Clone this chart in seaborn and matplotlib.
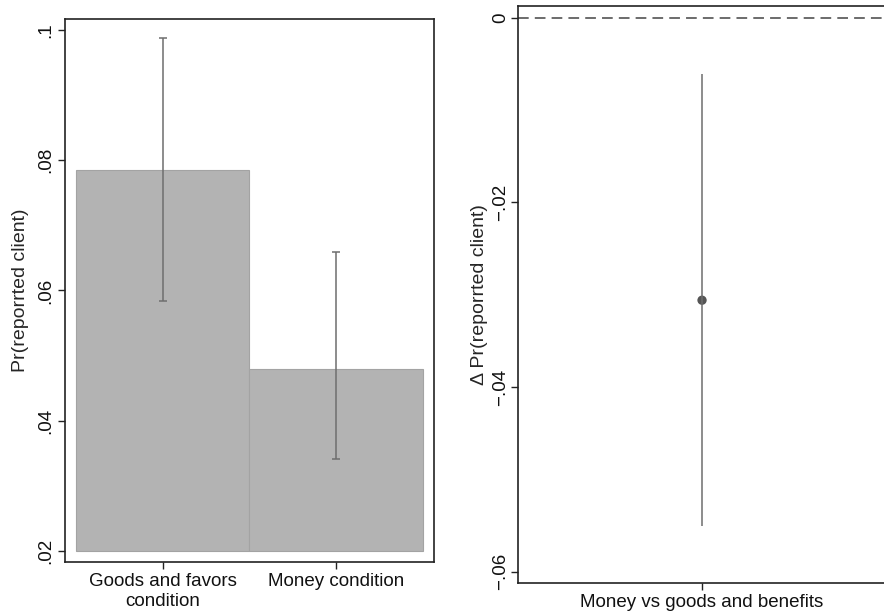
import numpy as np
import matplotlib
matplotlib.use("Agg")
import matplotlib.pyplot as plt
import seaborn as sns

# bar panel values
conditions = ["Goods and favors\ncondition", "Money condition"]
pr_reported = np.array([0.0785, 0.0479])
ci_low = np.array([0.0584, 0.0341])
ci_high = np.array([0.0988, 0.0659])
bar_base = 0.02

# difference panel values
diff_label = ["Money vs goods and benefits"]
diff_est = np.array([-0.0306])
diff_low = np.array([-0.0551])
diff_high = np.array([-0.0061])

sns.set_theme(style="white")
plt.rcParams["font.family"] = ["Liberation Sans", "DejaVu Sans"]
plt.rcParams["font.size"] = 13.5

fig = plt.figure(figsize=(8.84, 6.16), dpi=100)
ax1 = fig.add_axes([0.0735, 0.0877, 0.4174, 0.8815])
ax2 = fig.add_axes([0.586, 0.0531, 0.4163, 0.9372])

# --- left: bars with CIs
sns.barplot(x=conditions, y=pr_reported - bar_base, bottom=bar_base, ax=ax1,
            color="#b3b3b3", saturation=1, width=1, errorbar=None,
            edgecolor="#a3a3a3", linewidth=0.8)
ax1.errorbar(np.arange(len(conditions)), pr_reported,
             yerr=[pr_reported - ci_low, ci_high - pr_reported],
             fmt="none", ecolor="#6e6e6e", elinewidth=1.1, capsize=3.2, capthick=1.1)
ax1.set_xlim(-0.563, 1.563)
ax1.set_ylim(0.0183, 0.1017)
ax1.set_yticks([0.02, 0.04, 0.06, 0.08, 0.1])
ax1.set_yticklabels([".02", ".04", ".06", ".08", ".1"], rotation=90, va="center")
ax1.set_ylabel("Pr(reporrted client)", fontsize=14, labelpad=6)
ax1.set_xlabel("")

# --- right: difference with CI
ax2.axhline(0, color="#444444", linestyle=(0, (7, 4)), linewidth=1.1)
ax2.vlines([0], diff_low, diff_high, color="#6e6e6e", linewidth=1.1)
sns.scatterplot(x=[0], y=diff_est, ax=ax2, color="#555555", s=45, edgecolor="none")
ax2.set_xlim(-1, 1)
ax2.set_ylim(-0.06126, 0.00127)
ax2.set_xticks([0])
ax2.set_xticklabels(diff_label)
ax2.set_yticks([0, -0.02, -0.04, -0.06])
ax2.set_yticklabels(["0", "\u2212.02", "\u2212.04", "\u2212.06"], rotation=90, va="center")
ax2.set_ylabel("\u0394 Pr(reporrted client)", fontsize=14, labelpad=3)

for ax in (ax1, ax2):
    for sp in ax.spines.values():
        sp.set_color("#222222")
        sp.set_linewidth(1.2)
    ax.tick_params(axis="both", which="both", length=5, width=1, color="#222222",
                   labelsize=13.5, labelcolor="#111111", left=True, bottom=True, pad=3)
    ax.grid(False)
ax2.tick_params(axis="y", pad=1.5)

fig.savefig("out.png", dpi=100)
